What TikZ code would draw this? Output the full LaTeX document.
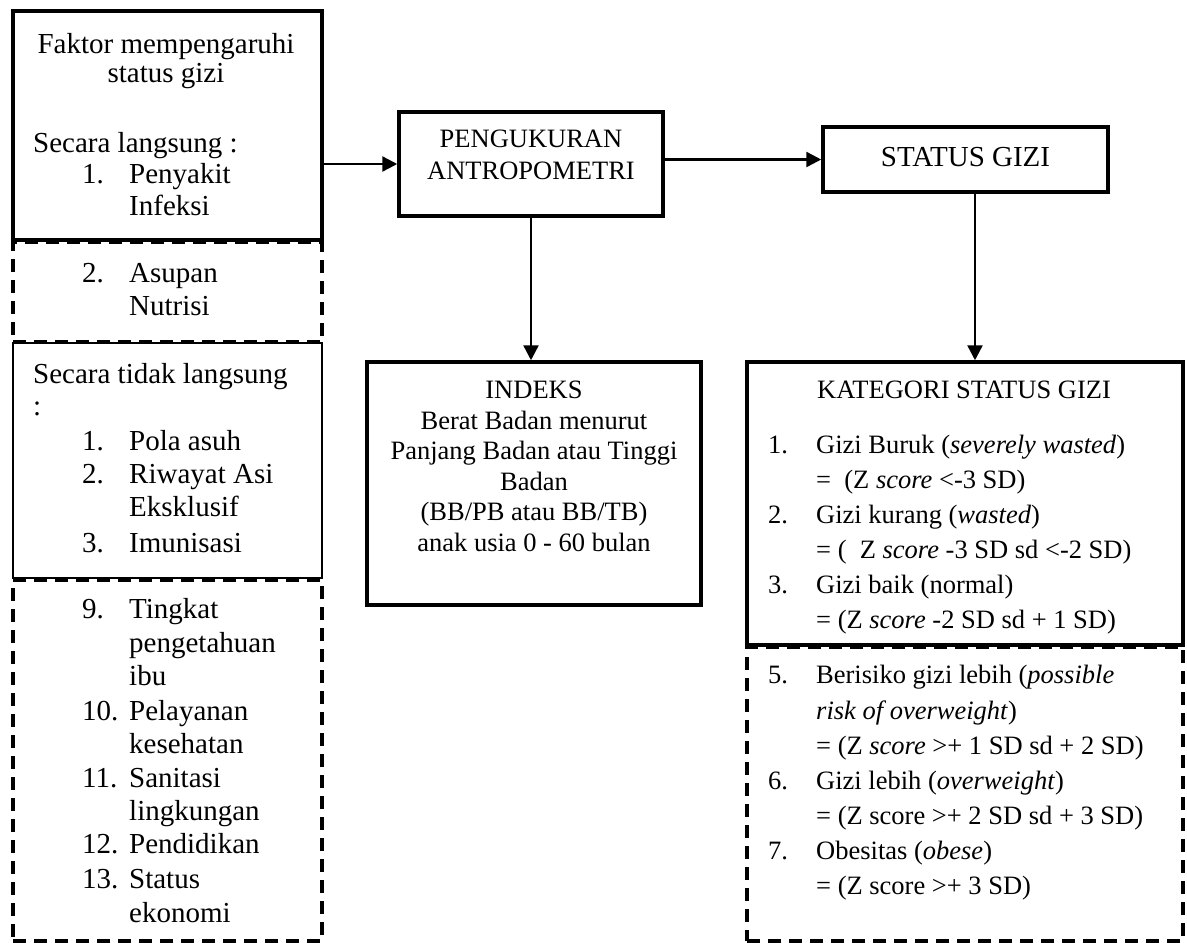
\documentclass[tikz,border=0pt]{standalone}
\usepackage{fontspec}
\setmainfont{Liberation Serif}
\usetikzlibrary{arrows.meta}
\newcommand\bigf{\fontsize{29}{33}\selectfont}
\newcommand\smf{\fontsize{26.5}{30}\selectfont}
\newcommand\numi[2]{\makebox[47pt][l]{#1}#2}
\newcommand\numk[2]{\makebox[48pt][l]{#1}#2}
\begin{document}
\begin{tikzpicture}[x=1pt,y=-1pt,
  sbox/.style={draw, line width=3.5pt, inner sep=0pt, rectangle},
  dbox/.style={draw, line width=3.6pt, dash pattern=on 13pt off 8pt, inner sep=0pt, rectangle},
  tbox/.style={draw, line width=1.4pt, inner sep=0pt, rectangle},
  arr/.style={line width=2.4pt, -{Triangle[length=15pt,width=15pt]}},
  lt/.style={anchor=base west, inner sep=0pt, font=\bigf},
  ct/.style={anchor=base, inner sep=0pt, font=\bigf},
  rt/.style={anchor=base west, inner sep=0pt, font=\smf},
  rc/.style={anchor=base, inner sep=0pt, font=\smf},
]
\useasboundingbox (0,0) rectangle (1187,943);
\fill[white] (0,0) rectangle (1187,943);

% left column boxes
\node[sbox, minimum width=309pt, minimum height=229pt] (b1) at (167.5,125.5) {};
\node[dbox, minimum width=309pt, minimum height=100pt] (b2) at (167.5,292) {};
\node[tbox, minimum width=309pt, minimum height=235pt] (b3) at (167.5,460.5) {};
\node[dbox, minimum width=309pt, minimum height=361pt] (b4) at (167.5,760.5) {};

% middle and right boxes
\node[sbox, minimum width=264pt, minimum height=104pt] (pe) at (531,164) {};
\node[sbox, minimum width=285pt, minimum height=65pt] (sg) at (965.5,159.5) {};
\node[sbox, minimum width=334pt, minimum height=243pt] (ix) at (534,483.5) {};
\node[sbox, minimum width=436pt, minimum height=283pt] (kat) at (965,503.5) {};
\node[dbox, minimum width=436pt, minimum height=294pt] (kd) at (965,794) {};

% arrows
\draw[arr] (b1.east |- pe.west) -- (pe.west);
\draw[arr] (pe.east |- sg.west) -- (sg.west);
\draw[arr] (pe.south) -- (pe.south |- ix.north);
\draw[arr] ([xshift=9.5pt]sg.south) -- ([xshift=9.5pt]sg.south |- kat.north);

% left texts
\node[ct] (t1) at (166,53) {Faktor mempengaruhi};
\node[ct] (t2) at (166,82) {status gizi};
\node[lt] (t3) at (33,152) {Secara langsung :};
\node[lt] (t4) at (82,183) {\numi{1.}{Penyakit}};
\node[lt] (t5) at (129,215) {Infeksi};
\node[lt] (t6) at (82,282) {\numi{2.}{Asupan}};
\node[lt] (t7) at (129,315) {Nutrisi};
\node[lt] (t8) at (33,383) {Secara tidak langsung};
\node[lt] (t9) at (33,415) {:};
\node[lt] (t10) at (82,450) {\numi{1.}{Pola asuh}};
\node[lt] (t11) at (82,483) {\numi{2.}{Riwayat Asi}};
\node[lt] (t12) at (129,516) {Eksklusif};
\node[lt] (t13) at (82,552) {\numi{3.}{Imunisasi}};
\node[lt] (t14) at (82,618) {\numi{9.}{Tingkat}};
\node[lt] (t15) at (129,652) {pengetahuan};
\node[lt] (t16) at (129,685) {ibu};
\node[lt] (t17) at (82,720) {\numi{10.}{Pelayanan}};
\node[lt] (t18) at (129,753) {kesehatan};
\node[lt] (t19) at (82,787) {\numi{11.}{Sanitasi}};
\node[lt] (t20) at (129,820) {lingkungan};
\node[lt] (t21) at (82,853) {\numi{12.}{Pendidikan}};
\node[lt] (t22) at (82,888) {\numi{13.}{Status}};
\node[lt] (t23) at (129,922) {ekonomi};

% middle texts
\node[rc] (p1) at (531,147) {PENGUKURAN};
\node[rc] (p2) at (531,179) {ANTROPOMETRI};
\node[ct] (s1) at (965.5,166) {STATUS GIZI};
\node[rc] (i1) at (534,398) {INDEKS};
\node[rc] (i2) at (534,429) {Berat Badan menurut};
\node[rc] (i3) at (534,459) {Panjang Badan atau Tinggi};
\node[rc] (i4) at (534,490) {Badan};
\node[rc] (i5) at (534,520) {(BB/PB atau BB/TB)};
\node[rc] (i6) at (534,551) {anak usia 0 - 60 bulan};

% right texts
\node[rc] (k0) at (964,398) {KATEGORI STATUS GIZI};
\node[rt] (k1) at (768,453) {\numk{1.}{Gizi Buruk (\textit{severely wasted})}};
\node[rt] (k2) at (816,488) {=\ \ (Z \textit{score} <-3 SD)};
\node[rt] (k3) at (768,523) {\numk{2.}{Gizi kurang (\textit{wasted})}};
\node[rt] (k4) at (816,558) {= (\ \ Z \textit{score} -3 SD sd <-2 SD)};
\node[rt] (k5) at (768,593) {\numk{3.}{Gizi baik (normal)}};
\node[rt] (k6) at (816,628) {= (Z \textit{score} -2 SD sd + 1 SD)};
\node[rt] (k7) at (768,683) {\numk{5.}{Berisiko gizi lebih (\textit{possible}}};
\node[rt] (k8) at (816,719) {\textit{risk of overweight})};
\node[rt] (k9) at (816,754) {= (Z \textit{score} >+ 1 SD sd + 2 SD)};
\node[rt] (k10) at (768,789) {\numk{6.}{Gizi lebih (\textit{overweight})}};
\node[rt] (k11) at (816,824) {= (Z score >+ 2 SD sd + 3 SD)};
\node[rt] (k12) at (768,859) {\numk{7.}{Obesitas (\textit{obese})}};
\node[rt] (k13) at (816,894) {= (Z score >+ 3 SD)};
\end{tikzpicture}
\end{document}
